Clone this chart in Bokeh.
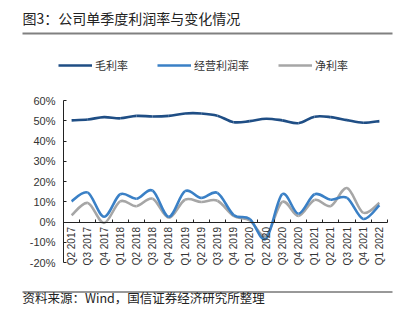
import numpy as np
from bokeh.plotting import figure
from bokeh.models import (Range1d, Label, Legend, LegendItem,
                          FixedTicker, LinearAxis)
from bokeh.embed import file_html
from bokeh.resources import INLINE

# ---------------- data ----------------
categories = ["Q2 2017", "Q3 2017", "Q4 2017", "Q1 2018", "Q2 2018", "Q3 2018",
              "Q4 2018", "Q1 2019", "Q2 2019", "Q3 2019", "Q4 2019", "Q1 2020",
              "Q2 2020", "Q3 2020", "Q4 2020", "Q1 2021", "Q2 2021", "Q3 2021",
              "Q4 2021", "Q1 2022"]
gross_margin = [50.2, 50.6, 51.8, 51.2, 52.4, 52.1, 52.4, 53.6, 53.6, 52.5,
                49.3, 49.8, 51.0, 50.2, 48.8, 52.0, 51.8, 50.3, 49.0, 49.8]
operating_margin = [10.2, 14.5, 2.6, 13.7, 11.5, 15.5, 2.6, 15.2, 11.9, 14.4,
                    3.5, 1.5, -8.3, 13.7, 4.1, 13.7, 11.0, 11.9, 1.5, 8.3]
net_margin = [3.3, 9.4, -0.5, 10.2, 7.8, 11.5, 2.1, 11.0, 9.9, 10.5,
              3.0, 0.8, -6.9, 9.9, 3.0, 10.9, 7.9, 16.8, 4.6, 9.4]
series_names = ["毛利率", "经营利润率", "净利率"]
y_ticks = [-20, -10, 0, 10, 20, 30, 40, 50, 60]
y_tick_labels = ["-20%", "-10%", "0%", "10%", "20%", "30%", "40%", "50%", "60%"]
title_text = "图3：公司单季度利润率与变化情况"
source_text = "资料来源：Wind，国信证券经济研究所整理"

# ---------------- style / layout ----------------
colors = ["#1F4E85", "#3A80C6", "#A6A6A6"]
CJK = "Noto Sans CJK SC"
LAT = "Liberation Sans"
W, H = 410, 323
PL, PR, PT, PB = 63, 387, 100, 262   # plot-area pixel box
AX = "#222222"

n = len(categories)
xs = np.arange(n, dtype=float)
ymin, ymax = y_ticks[0], y_ticks[-1]
xpx = (PR - PL) / n
ypx = (PB - PT) / (ymax - ymin)
x0r = -0.5 - PL / xpx
y1r = ymax + PT / ypx
x_range = Range1d(x0r, n - 0.5 + (W - PR) / xpx)
y_range = Range1d(ymin - (H - PB) / ypx, y1r)


def dx(px):   # canvas pixel -> data x (decorations only)
    return float(x0r + px / xpx)


def dy(py):   # canvas pixel (from top) -> data y (decorations only)
    return float(y1r - py / ypx)


p = figure(width=W, height=H, output_backend="svg", toolbar_location=None,
           x_range=x_range, y_range=y_range,
           x_axis_location=None, y_axis_location=None, min_border=0)
p.xgrid.visible = False
p.ygrid.visible = False
p.outline_line_color = None
p.background_fill_color = "white"
p.border_fill_color = "white"

# header / footer rules (decorations)
p.line(x=[dx(22), dx(392)], y=[dy(33), dy(33)],
       line_color="#808080", line_width=2)
p.line(x=[dx(22), dx(392)], y=[dy(291.5), dy(291.5)],
       line_color="#333333", line_width=1)

# y axis
yax = LinearAxis(fixed_location=-0.5, bounds=(ymin, ymax),
                 ticker=FixedTicker(ticks=y_ticks),
                 major_label_overrides={t: l for t, l in zip(y_ticks, y_tick_labels)},
                 major_tick_in=3, major_tick_out=0, minor_tick_line_color=None,
                 axis_line_color=AX, major_tick_line_color=AX,
                 major_label_standoff=8, major_label_text_font=LAT,
                 major_label_text_font_size="11px", major_label_text_color="#333333")
p.add_layout(yax, "left")

# x axis at zero: line + boundary ticks
bounds = [i - 0.5 for i in range(n + 1)]
xax = LinearAxis(fixed_location=0, bounds=(-0.5, n - 0.5),
                 ticker=FixedTicker(ticks=bounds),
                 major_tick_in=3, major_tick_out=0, minor_tick_line_color=None,
                 axis_line_color=AX, major_tick_line_color=AX,
                 major_label_text_color=None)
p.add_layout(xax, "below")
# category labels
xlab = LinearAxis(fixed_location=0, ticker=FixedTicker(ticks=list(range(n))),
                  major_label_overrides={i: c for i, c in enumerate(categories)},
                  axis_line_color=None, major_tick_line_color=None,
                  minor_tick_line_color=None, major_tick_in=0, major_tick_out=0,
                  major_label_orientation=np.pi / 2, major_label_standoff=5,
                  major_label_text_font=LAT, major_label_text_font_size="10px",
                  major_label_text_color="#333333")
p.add_layout(xlab, "below")


def smooth(vals, t=1 / 6):
    y = np.asarray(vals, dtype=float)
    x = xs
    xp = np.concatenate([[x[0]], x, [x[-1]]])
    yp = np.concatenate([[y[0]], y, [y[-1]]])
    m = len(y)
    return dict(
        x0=xp[1:m], y0=yp[1:m], x1=xp[2:m + 1], y1=yp[2:m + 1],
        cx0=xp[1:m] + (xp[2:m + 1] - xp[0:m - 1]) * t,
        cy0=yp[1:m] + (yp[2:m + 1] - yp[0:m - 1]) * t,
        cx1=xp[2:m + 1] - (xp[3:m + 2] - xp[1:m]) * t,
        cy1=yp[2:m + 1] - (yp[3:m + 2] - yp[1:m]) * t,
    )


series = [gross_margin, operating_margin, net_margin]
renderers = [None, None, None]
for idx in [0, 2, 1]:   # blue drawn on top
    d = smooth(series[idx])
    renderers[idx] = p.bezier(x0="x0", y0="y0", x1="x1", y1="y1", cx0="cx0",
                              cy0="cy0", cx1="cx1", cy1="cy1", source=d,
                              line_color=colors[idx], line_width=2.6)

legend = Legend(items=[LegendItem(label=nm, renderers=[r])
                       for nm, r in zip(series_names, renderers)],
                orientation="horizontal", location=(58, H - 73),
                glyph_width=34, glyph_height=14, label_standoff=3, spacing=29,
                padding=0, margin=0, border_line_alpha=0,
                background_fill_alpha=0, label_text_font=CJK,
                label_text_font_size="11px", label_text_color="#333333")
p.add_layout(legend, "center")

p.add_layout(Label(x=22, y=H - 17, x_units="screen", y_units="screen",
                   text=title_text, text_font=CJK, text_font_size="14px",
                   text_baseline="middle", text_color="#222222"))
p.add_layout(Label(x=22, y=H - 297, x_units="screen", y_units="screen",
                   text=source_text, text_font=CJK, text_font_size="12.5px",
                   text_baseline="middle", text_color="#222222"))

open("out.html", "w").write(file_html(p, INLINE))
